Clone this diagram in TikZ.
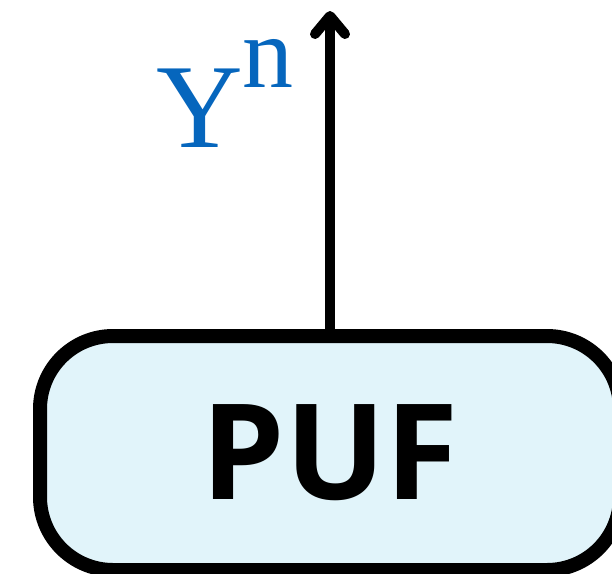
\documentclass[tikz,border=0pt]{standalone}
\usepackage{fontspec}
\usetikzlibrary{arrows.meta}
\newfontfamily\pufsans{Open Sans}
\newfontfamily\labserif{Liberation Serif}
\definecolor{pufblue}{RGB}{225,244,250}
\definecolor{labblue}{RGB}{6,102,189}

\begin{document}
\begin{tikzpicture}[x=1pt, y=-1pt,
    pufbox/.style={draw=black, fill=pufblue, line width=14pt, rounded corners=73pt,
      minimum width=580pt, minimum height=234pt, inner sep=0pt,
      font=\pufsans\bfseries\fontsize{133}{133}\selectfont},
    outarrow/.style={line width=10pt, -{Straight Barb[length=18pt, width=30pt, round]}}]

    \useasboundingbox (0,0) rectangle (612,573);

    % --- PUF block ---
    \node[pufbox] (puf) at (330,453) {PUF};

    % --- Output arrow ---
    \coordinate (out) at (330,11);
    \draw[outarrow] (puf.north) -- (out);

    % --- Output label ---
    \node[anchor=base west, inner sep=0pt, text=labblue,
      font=\labserif\fontsize{120}{120}\selectfont] (yn) at (156,147)
      {Y\raisebox{60pt}{\fontsize{102}{102}\selectfont n}};

\end{tikzpicture}
\end{document}
